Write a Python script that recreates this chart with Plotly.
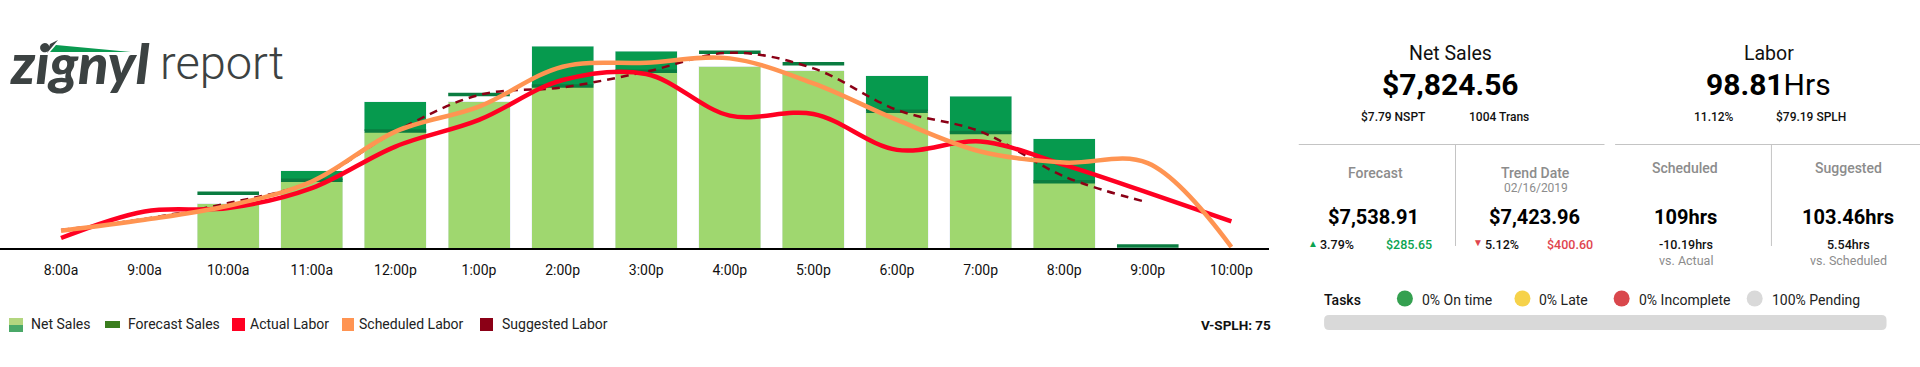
import plotly.graph_objects as go

hours = ["8:00a","9:00a","10:00a","11:00a","12:00p","1:00p","2:00p","3:00p","4:00p","5:00p","6:00p","7:00p","8:00p","9:00p","10:00p"]
net_sales = [0,0,216,376,711,711,983,959,886,862,838,740,531,0,0]
forecast_sales = [None,None,267,330,569,747,789,860,953,897,666,562,322,10,None]
actual_labor = [0.72,2.64,2.88,4.32,7.32,9.24,12.12,12.55,9.55,9.67,7.08,7.68,6.0,4.0,1.92]
scheduled_labor = [1.25,2.04,3.05,4.8,8.4,10.2,13.08,13.37,13.68,11.88,9.24,6.96,6.17,6.12,0.07]
suggested_labor = [1.3,2.1,3.24,4.8,8.4,11.04,11.59,12.72,14.09,12.96,9.96,8.4,5.16,3.29,None]

LIGHT="#9fd76f"; DARK="#069a4e"; MARK="#0a7c40"; RED="#ff0022"; ORANGE="#ff9452"; MAROON="#8b0016"
W,H=1920,367
def px(x): return x/W
def py(y): return 1-y/H
def zx(x): return 1280+x/2.45

base=[min(n,f if f else 0) for n,f in zip(net_sales,forecast_sales)]
over=[n-b for n,b in zip(net_sales,base)]

fig=go.Figure()
fig.add_bar(x=hours,y=base,marker_color=LIGHT,name="Net Sales",showlegend=False)
fig.add_bar(x=hours,y=over,marker_color=DARK,name="Net Sales over forecast",showlegend=False)
fig.add_scatter(x=hours,y=forecast_sales,mode="markers",name="Forecast Sales",showlegend=False,
    marker=dict(symbol="line-ew",size=44,line=dict(width=3.5,color=MARK),color=MARK))
fig.add_scatter(x=hours,y=suggested_labor,yaxis="y2",mode="lines",name="Suggested Labor",showlegend=False,
    line=dict(color=MAROON,width=2.5,dash="8px,6px",shape="spline",smoothing=1))
fig.add_scatter(x=hours,y=actual_labor,yaxis="y2",mode="lines",name="Actual Labor",showlegend=False,
    line=dict(color=RED,width=4.5,shape="spline",smoothing=1))
fig.add_scatter(x=hours,y=scheduled_labor,yaxis="y2",mode="lines",name="Scheduled Labor",showlegend=False,
    line=dict(color=ORANGE,width=4.5,shape="spline",smoothing=1))

ann=[]
def T(x,y,text,size=12,color="#111",weight=400,anchor="center",family="Roboto",italic=False):
    ann.append(dict(x=px(x-2 if anchor=="left" else x),y=py(y),xref="paper",yref="paper",text=text,showarrow=False,xanchor=anchor,yanchor="middle",
        font=dict(family=family,size=size,color=color,weight=weight,style="italic" if italic else "normal")))
shapes=[]
def R(x0,y0,x1,y1,color):
    shapes.append(dict(type="rect",xref="paper",yref="paper",x0=px(x0),x1=px(x1),y0=py(y0),y1=py(y1),fillcolor=color,line_width=0,layer="above"))
def L(x0,y0,x1,y1,color="#c4c4c4",w=1):
    shapes.append(dict(type="line",xref="paper",yref="paper",x0=px(x0),x1=px(x1),y0=py(y0),y1=py(y1),line=dict(color=color,width=w)))
def C(cx,cy,r,color):
    shapes.append(dict(type="circle",xref="paper",yref="paper",x0=px(cx-r),x1=px(cx+r),y0=py(cy-r),y1=py(cy+r),fillcolor=color,line_width=0))
def P(pts,color):
    d="M "+" L ".join(f"{px(a):.5f},{py(b):.5f}" for a,b in pts)+" Z"
    shapes.append(dict(type="path",xref="paper",yref="paper",path=d,fillcolor=color,line_width=0))
def RR(x0,y0,x1,y1,r,color):
    a,b,c,e=px(x0),px(x1),py(y0),py(y1); rx=r/W; ry=r/H
    d=(f"M {a+rx:.5f},{c:.5f} L {b-rx:.5f},{c:.5f} Q {b:.5f},{c:.5f} {b:.5f},{c-ry:.5f} L {b:.5f},{e+ry:.5f} "
       f"Q {b:.5f},{e:.5f} {b-rx:.5f},{e:.5f} L {a+rx:.5f},{e:.5f} Q {a:.5f},{e:.5f} {a:.5f},{e+ry:.5f} "
       f"L {a:.5f},{c-ry:.5f} Q {a:.5f},{c:.5f} {a+rx:.5f},{c:.5f} Z")
    shapes.append(dict(type="path",xref="paper",yref="paper",path=d,fillcolor=color,line_width=0))

# logo
T(10,63,"zignyl",56,"#3c4242",900,"left","Lato",True)
T(160,63,"report",47,"#3c4242",300,"left","Roboto")
P([(50,52),(56,45),(131,52)],"#0a9a50")
P([(47,53),(50,44),(58,40)],"#3c4242")

# legend
R(9,318,23,325,"#b3d67f"); R(9,325,23,332,"#4aa868")
R(105,321,120,328,"#3a7d1e")
R(232,318,245,331,RED); R(342,318,354,331,ORANGE); R(480,318,493,331,MAROON)
for x,t in [(31,"Net Sales"),(128,"Forecast Sales"),(249.5,"Actual Labor"),(359,"Scheduled Labor"),(502,"Suggested Labor")]:
    T(x,324,t,14,"#222",400,"left")
T(1273,325,"V-SPLH: 75",13.5,"#111",700,"right")

# KPI panels
L(zx(46),144.5,zx(795),144.5); L(zx(821),144.5,1920,144.5)
L(zx(430),144.5,zx(430),246); L(zx(1204),144.5,zx(1204),246)
T(zx(418),53,"Net Sales",19.5,"#111")
T(zx(418),85,"$7,824.56",30,"#000",700)
T(zx(278),117,"$7.79 NSPT",12,"#111",500); T(zx(536),117,"1004 Trans",12,"#111",500)
T(zx(1197),53,"Labor",19.5,"#111")
T(zx(1197),85,"<b>98.81</b>Hrs",30,"#000")
T(zx(1063),117,"11.12%",12,"#111",500); T(zx(1300),117,"$79.19 SPLH",12,"#111",500)
GR="#8c8c8c"
T(zx(233),173,"Forecast",14,GR,500); T(zx(627),173,"Trend Date",14,GR,500)
T(zx(627),188,"02/16/2019",12,GR)
T(zx(993),168,"Scheduled",14,GR,500); T(zx(1392),168,"Suggested",14,GR,500)
for x,t in [(230,"$7,538.91"),(624,"$7,423.96"),(993,"109hrs"),(1392,"103.46hrs")]:
    T(zx(x),217,t,20,"#000",700)
T(zx(80),243,"▲",10,"#0aa350"); T(zx(140),244,"3.79%",12.5,"#111",500); T(zx(317),244,"$285.65",12.5,"#0aa350",500)
T(zx(484),242,"▼",10,"#e0454d"); T(zx(543),244,"5.12%",12.5,"#111",500); T(zx(710),244,"$400.60",12.5,"#e0454d",500)
T(zx(994),244,"-10.19hrs",12.5,"#111",500); T(zx(994),260,"vs. Actual",12.5,GR)
T(zx(1392),244,"5.54hrs",12.5,"#111",500); T(zx(1392),260,"vs. Scheduled",12.5,GR)

# tasks
T(zx(108),300,"Tasks",14,"#111",500,"left")
for cx,col,tx,t in [(306,"#34a050",347,"0% On time"),(594,"#f6d24a",635,"0% Late"),(837,"#d9474c",880,"0% Incomplete"),(1163,"#d9d9d9",1206,"100% Pending")]:
    C(zx(cx),298.5,8,col); T(zx(tx),300,t,14,"#222",400,"left")
RR(zx(108),315,zx(1486),330,5,"#d9d9d9")

fig.update_layout(width=W,height=H,margin=dict(l=0,r=0,t=0,b=0),paper_bgcolor="white",plot_bgcolor="white",
    barmode="stack",bargap=0.258,showlegend=False,annotations=ann,shapes=shapes,
    xaxis=dict(domain=[0,1269/W],type="category",categoryorder="array",categoryarray=hours,range=[-0.73,14.45],
        showline=True,linecolor="#000",linewidth=2,showgrid=False,ticks="",tickfont=dict(family="Roboto",size=14,color="#111"),ticklabelstandoff=8,zeroline=False),
    yaxis=dict(domain=[py(248),py(20)],range=[0,1110],visible=False),
    yaxis2=dict(domain=[py(248),py(20)],range=[0,16.45],overlaying="y",visible=False))
fig.write_html("out.html",config=dict(displayModeBar=False),post_script="document.body.style.margin='0';document.body.style.overflow='hidden';")
